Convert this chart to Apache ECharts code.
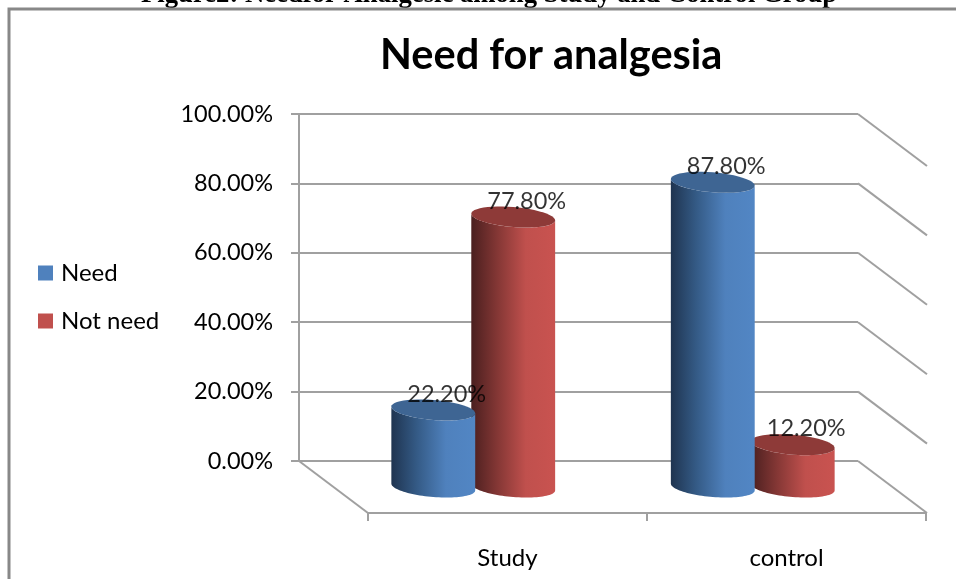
<!DOCTYPE html>
<html>
<head>
<meta charset="utf-8">
<style>html,body{margin:0;padding:0;background:#fff}#chart{width:956px;height:579px}</style>
<script src="https://cdn.jsdelivr.net/npm/echarts@6/dist/echarts.min.js"></script>
</head>
<body>
<div id="chart"></div>
<script>
const categories = ['Study', 'control'];
const needValues = [22.2, 87.8];
const notNeedValues = [77.8, 12.2];
const yTicks = [0, 20, 40, 60, 80, 100];

const FONT = 'Lato';
const GREY = '#a0a0a0';
const LINE_W = 2;
const DEPTH_X = 69;
const DEPTH_Y = 52;
const TILT = 0.08;

// One cylinder in the mid-depth plane, with its top cap as a separate ellipse.
function cylinder(shift, stops, capColor) {
  return function (params, api) {
    const band = api.size([1, 0])[0];
    const cx = api.coord([api.value(0), 0])[0] + band * shift;
    const y0 = api.coord([api.value(0), 0])[1];
    const y1 = api.coord([api.value(0), api.value(1)])[1];
    const rx = band * 0.15;
    const ry = 10;
    const ring = (cy, from, to) => {
      const pts = [];
      for (let k = 0; k <= 48; k++) {
        const a = from + (to - from) * k / 48;
        const px = rx * Math.cos(a), py = ry * Math.sin(a);
        pts.push([cx + px, cy + py + px * TILT]);
      }
      return pts;
    };
    const side = ring(y1, Math.PI, 0).concat(ring(y0, 0, Math.PI));
    return {
      type: 'group',
      children: [
        {
          type: 'polygon',
          shape: { points: side },
          style: {
            fill: new echarts.graphic.LinearGradient(0, 0, 1, 0, stops)
          }
        },
        {
          type: 'polygon',
          shape: { points: ring(y1, 0, Math.PI * 2) },
          style: { fill: capColor }
        }
      ]
    };
  };
}

// Receding gridlines on the right wall and the floor edge on the left.
function wallLine(params, api) {
  const cs = params.coordSys;
  const y = api.coord([0, api.value(0)])[1];
  const xr = cs.x + cs.width;
  const children = [{
    type: 'line',
    shape: { x1: xr, y1: y, x2: xr + DEPTH_X, y2: y + DEPTH_Y },
    style: { stroke: GREY, lineWidth: LINE_W }
  }];
  if (api.value(0) === 0) {
    children.push({
      type: 'line',
      shape: { x1: cs.x, y1: y, x2: cs.x + DEPTH_X, y2: y + DEPTH_Y },
      style: { stroke: GREY, lineWidth: LINE_W }
    });
  }
  return { type: 'group', children };
}

const midAxisX = { gridIndex: 2, type: 'category', data: categories, show: false };
const midAxisY = { gridIndex: 2, type: 'value', min: 0, max: 100, interval: 20, show: false };

const valueLabel = {
  show: true,
  position: 'top',
  distance: 0,
  color: '#000',
  fontFamily: FONT,
  fontSize: 23.5,
  formatter: p => p.value[1].toFixed(2) + '%'
};

const chart = echarts.init(document.getElementById('chart'), null, { renderer: 'canvas' });
chart.setOption({
  animation: false,
  backgroundColor: '#fff',
  title: [
    {
      text: 'Figure2: Needfor Analgesic among Study and Control Group',
      left: 141,
      top: -18,
      padding: 0,
      textStyle: { fontFamily: 'Liberation Serif', fontWeight: 'bold', fontSize: 26.7, color: '#000' }
    },
    {
      text: 'Need for analgesia',
      left: 380,
      top: 35,
      padding: 0,
      textStyle: { fontFamily: FONT, fontWeight: 'bold', fontSize: 41.5, color: '#000' }
    }
  ],
  legend: {
    orient: 'vertical',
    left: 38,
    top: 261,
    padding: 0,
    itemWidth: 15,
    itemHeight: 15,
    itemGap: 24,
    icon: 'rect',
    data: ['Need', 'Not need'],
    textStyle: { fontFamily: FONT, fontSize: 24, color: '#000', padding: [0, 0, 0, 3] }
  },
  grid: [
    { left: 299, right: 98, top: 114, bottom: 118 },
    { left: 368, right: 30, top: 166, bottom: 66 },
    { left: 333.5, right: 63.5, top: 140, bottom: 92 }
  ],
  xAxis: [
    { gridIndex: 0, type: 'category', data: categories, show: false },
    {
      gridIndex: 1,
      type: 'category',
      data: categories,
      axisLine: { lineStyle: { color: GREY, width: LINE_W } },
      axisTick: { show: true, length: 8, lineStyle: { color: GREY, width: LINE_W } },
      axisLabel: { color: '#000', fontFamily: FONT, fontSize: 24, margin: 33 }
    },
    midAxisX
  ],
  yAxis: [
    {
      gridIndex: 0,
      type: 'value',
      min: 0,
      max: 100,
      interval: 20,
      axisLine: { show: true, lineStyle: { color: GREY, width: LINE_W } },
      axisTick: { show: true, length: 8, lineStyle: { color: GREY, width: LINE_W } },
      axisLabel: { color: '#000', fontFamily: FONT, fontSize: 23.5, margin: 26, formatter: v => v.toFixed(2) + '%' },
      splitLine: { show: true, lineStyle: { color: GREY, width: LINE_W } }
    },
    { gridIndex: 1, type: 'value', min: 0, max: 100, interval: 20, show: false },
    midAxisY
  ],
  series: [
    {
      name: 'walls',
      type: 'custom',
      xAxisIndex: 0,
      yAxisIndex: 0,
      z: 1,
      silent: true,
      clip: false,
      data: yTicks.map(v => [v]),
      encode: { y: 0 },
      renderItem: wallLine
    },
    {
      name: 'Not need',
      type: 'custom',
      xAxisIndex: 2,
      yAxisIndex: 2,
      z: 3,
      clip: false,
      itemStyle: { color: '#c0504d' },
      data: notNeedValues.map((v, i) => [i, v]),
      encode: { x: 0, y: 1 },
      renderItem: cylinder(0.143, [
        { offset: 0, color: '#4a1f1f' },
        { offset: 0.3, color: '#823634' },
        { offset: 0.65, color: '#c0504d' },
        { offset: 1, color: '#c95350' }
      ], '#8e3a38')
    },
    {
      name: 'Need',
      type: 'custom',
      xAxisIndex: 2,
      yAxisIndex: 2,
      z: 4,
      clip: false,
      itemStyle: { color: '#4f81bd' },
      data: needValues.map((v, i) => [i, v]),
      encode: { x: 0, y: 1 },
      renderItem: cylinder(-0.143, [
        { offset: 0, color: '#1f3450' },
        { offset: 0.3, color: '#345a85' },
        { offset: 0.65, color: '#4f81bd' },
        { offset: 1, color: '#5286c4' }
      ], '#3e6593')
    },
    {
      name: 'Not need values',
      type: 'scatter',
      xAxisIndex: 2,
      yAxisIndex: 2,
      z: 6,
      symbolSize: 0,
      silent: true,
      clip: false,
      data: notNeedValues.map((v, i) => [i, v]),
      label: Object.assign({ offset: [53.5, -4] }, valueLabel)
    },
    {
      name: 'Need values',
      type: 'scatter',
      xAxisIndex: 2,
      yAxisIndex: 2,
      z: 6,
      symbolSize: 0,
      silent: true,
      clip: false,
      data: needValues.map((v, i) => [i, v]),
      label: Object.assign({ offset: [-26.5, -4] }, valueLabel)
    }
  ],
  graphic: [
    {
      type: 'polyline',
      silent: true,
      z: 10,
      shape: { points: [[9, 579], [9, 9], [956, 9]] },
      style: { fill: 'none', stroke: '#888888', lineWidth: 3 }
    }
  ]
});
</script>
</body>
</html>
